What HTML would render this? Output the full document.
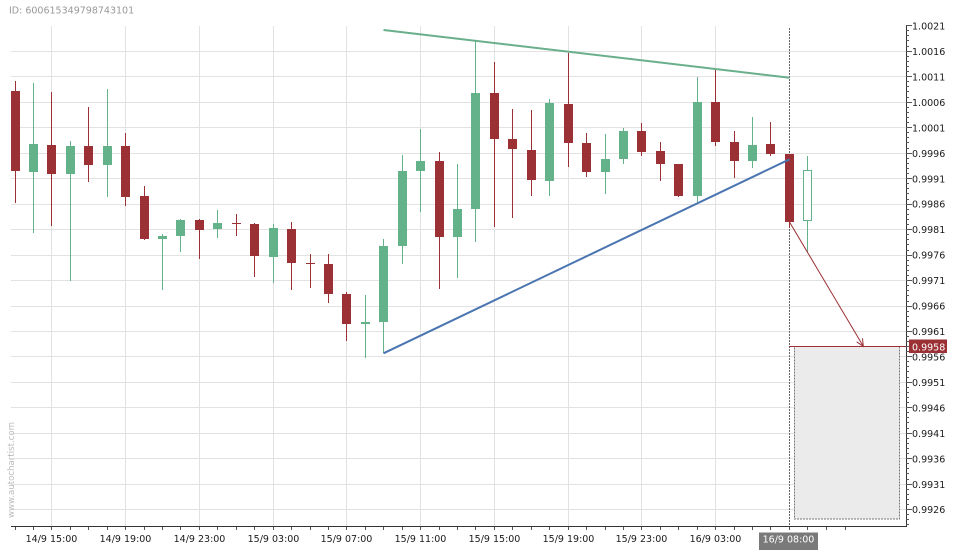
<!DOCTYPE html>
<html><head><meta charset="utf-8"><style>
html,body{margin:0;padding:0;background:#fff;}
svg{display:block;font-family:"DejaVu Sans","Liberation Sans",sans-serif;}
</style></head><body>
<svg width="960" height="550" viewBox="0 0 960 550" xmlns="http://www.w3.org/2000/svg">
<rect width="960" height="550" fill="#fff"/>
<text x="9" y="13.3" font-size="9.5" fill="#999">ID: 600615349798743101</text>
<g fill="#e2e2e2" shape-rendering="crispEdges">
<rect x="11" y="51" width="895" height="1"/><rect x="11" y="76" width="895" height="1"/><rect x="11" y="102" width="895" height="1"/><rect x="11" y="127" width="895" height="1"/><rect x="11" y="153" width="895" height="1"/><rect x="11" y="178" width="895" height="1"/><rect x="11" y="204" width="895" height="1"/><rect x="11" y="229" width="895" height="1"/><rect x="11" y="255" width="895" height="1"/><rect x="11" y="280" width="895" height="1"/><rect x="11" y="306" width="895" height="1"/><rect x="11" y="331" width="895" height="1"/><rect x="11" y="356" width="895" height="1"/><rect x="11" y="382" width="895" height="1"/><rect x="11" y="407" width="895" height="1"/><rect x="11" y="433" width="895" height="1"/><rect x="11" y="458" width="895" height="1"/><rect x="11" y="484" width="895" height="1"/><rect x="11" y="509" width="895" height="1"/>
<rect x="51" y="26" width="1" height="500"/><rect x="125" y="26" width="1" height="500"/><rect x="199" y="26" width="1" height="500"/><rect x="273" y="26" width="1" height="500"/><rect x="346" y="26" width="1" height="500"/><rect x="420" y="26" width="1" height="500"/><rect x="494" y="26" width="1" height="500"/><rect x="568" y="26" width="1" height="500"/><rect x="641" y="26" width="1" height="500"/><rect x="715" y="26" width="1" height="500"/>
</g>
<text transform="translate(14,518) rotate(-90)" font-size="8.6" fill="#bbb">www.autochartist.com</text>
<!-- forecast box -->
<rect x="794.5" y="346.5" width="105" height="172.5" fill="#ebebeb" stroke="#777" stroke-width="1" stroke-dasharray="2,1"/>
<line x1="789.5" y1="28" x2="789.5" y2="526" stroke="#666" stroke-width="1" stroke-dasharray="2,1"/>
<line x1="789" y1="346.5" x2="909" y2="346.5" stroke="#9b3035" stroke-width="1"/>
<!-- candles -->
<g shape-rendering="crispEdges">
<g fill="#9b3035">
<rect x="15" y="81" width="1" height="122"/><rect x="11" y="91" width="9" height="80"/>
<rect x="51" y="92" width="1" height="134"/><rect x="47" y="145" width="9" height="29"/>
<rect x="88" y="107" width="1" height="75"/><rect x="84" y="146" width="9" height="19"/>
<rect x="125" y="133" width="1" height="73"/><rect x="121" y="146" width="9" height="51"/>
<rect x="144" y="186" width="1" height="54"/><rect x="140" y="196" width="9" height="43"/>
<rect x="199" y="219" width="1" height="40"/><rect x="195" y="220" width="9" height="10"/>
<rect x="236" y="214" width="1" height="22"/><rect x="232" y="223" width="9" height="1"/>
<rect x="254" y="223" width="1" height="54"/><rect x="250" y="224" width="9" height="32"/>
<rect x="291" y="222" width="1" height="68"/><rect x="287" y="229" width="9" height="34"/>
<rect x="310" y="254" width="1" height="34"/><rect x="306" y="263" width="9" height="1"/>
<rect x="328" y="254" width="1" height="49"/><rect x="324" y="264" width="9" height="30"/>
<rect x="346" y="292" width="1" height="49"/><rect x="342" y="294" width="9" height="30"/>
<rect x="439" y="152" width="1" height="137"/><rect x="435" y="161" width="9" height="76"/>
<rect x="494" y="62" width="1" height="165"/><rect x="490" y="93" width="9" height="46"/>
<rect x="512" y="109" width="1" height="109"/><rect x="508" y="139" width="9" height="10"/>
<rect x="531" y="110" width="1" height="86"/><rect x="527" y="150" width="9" height="30"/>
<rect x="568" y="53" width="1" height="114"/><rect x="564" y="104" width="9" height="39"/>
<rect x="586" y="133" width="1" height="44"/><rect x="582" y="143" width="9" height="29"/>
<rect x="641" y="123" width="1" height="33"/><rect x="637" y="131" width="9" height="21"/>
<rect x="660" y="142" width="1" height="39"/><rect x="656" y="151" width="9" height="13"/>
<rect x="678" y="164" width="1" height="33"/><rect x="674" y="164" width="9" height="32"/>
<rect x="715" y="70" width="1" height="76"/><rect x="711" y="102" width="9" height="40"/>
<rect x="734" y="131" width="1" height="47"/><rect x="730" y="142" width="9" height="19"/>
<rect x="770" y="122" width="1" height="34"/><rect x="766" y="144" width="9" height="10"/>
<rect x="789" y="154" width="1" height="74"/><rect x="785" y="154" width="9" height="68"/>
</g>
<g fill="#64b28a">
<rect x="33" y="83" width="1" height="150"/><rect x="29" y="144" width="9" height="28"/>
<rect x="70" y="141" width="1" height="140"/><rect x="66" y="146" width="9" height="28"/>
<rect x="107" y="89" width="1" height="108"/><rect x="103" y="146" width="9" height="19"/>
<rect x="162" y="234" width="1" height="56"/><rect x="158" y="236" width="9" height="3"/>
<rect x="180" y="219" width="1" height="33"/><rect x="176" y="220" width="9" height="16"/>
<rect x="217" y="210" width="1" height="28"/><rect x="213" y="223" width="9" height="6"/>
<rect x="273" y="224" width="1" height="59"/><rect x="269" y="228" width="9" height="29"/>
<rect x="365" y="295" width="1" height="63"/><rect x="361" y="322" width="9" height="2"/>
<rect x="383" y="239" width="1" height="114"/><rect x="379" y="246" width="9" height="76"/>
<rect x="402" y="155" width="1" height="109"/><rect x="398" y="171" width="9" height="75"/>
<rect x="420" y="129" width="1" height="83"/><rect x="416" y="161" width="9" height="10"/>
<rect x="457" y="164" width="1" height="114"/><rect x="453" y="209" width="9" height="28"/>
<rect x="475" y="41" width="1" height="201"/><rect x="471" y="93" width="9" height="116"/>
<rect x="549" y="99" width="1" height="97"/><rect x="545" y="103" width="9" height="78"/>
<rect x="605" y="134" width="1" height="60"/><rect x="601" y="159" width="9" height="13"/>
<rect x="623" y="128" width="1" height="36"/><rect x="619" y="131" width="9" height="28"/>
<rect x="697" y="77" width="1" height="125"/><rect x="693" y="102" width="9" height="94"/>
<rect x="752" y="117" width="1" height="51"/><rect x="748" y="145" width="9" height="16"/>
<rect x="807" y="156" width="1" height="96"/>
</g>
<rect x="803.5" y="170.5" width="8" height="50" fill="#fff" stroke="#64b28a" stroke-width="1"/>
</g>
<!-- trend lines -->
<line x1="383.5" y1="30" x2="789.5" y2="77.7" stroke="#6aaf8c" stroke-width="2"/>
<line x1="383.5" y1="353.3" x2="789.5" y2="159.3" stroke="#4a75b0" stroke-width="2"/>
<!-- arrow -->
<line x1="789.5" y1="222" x2="863.3" y2="346.3" stroke="#9b3035" stroke-width="1"/>
<polyline points="856.7,341.8 863.3,346.3 862.5,338.3" fill="none" stroke="#9b3035" stroke-width="1"/>
<!-- axes -->
<g stroke="#333" stroke-width="1" shape-rendering="crispEdges">
<line x1="906.5" y1="26" x2="906.5" y2="527"/>
<line x1="11" y1="526.5" x2="907" y2="526.5"/>
</g>
<g stroke="#555" stroke-width="1" shape-rendering="crispEdges" id="yt">
<path d="M906 25.5h6M906 51.5h6M906 76.5h6M906 102.5h6M906 127.5h6M906 153.5h6M906 178.5h6M906 204.5h6M906 229.5h6M906 255.5h6M906 280.5h6M906 306.5h6M906 331.5h6M906 356.5h6M906 382.5h6M906 407.5h6M906 433.5h6M906 458.5h6M906 484.5h6M906 509.5h6"/>
<path d="M906 30.5h3M906 35.5h3M906 40.5h3M906 46.5h3M906 56.5h3M906 61.5h3M906 66.5h3M906 71.5h3M906 81.5h3M906 86.5h3M906 91.5h3M906 97.5h3M906 107.5h3M906 112.5h3M906 117.5h3M906 122.5h3M906 132.5h3M906 137.5h3M906 142.5h3M906 148.5h3M906 158.5h3M906 163.5h3M906 168.5h3M906 173.5h3M906 183.5h3M906 188.5h3M906 193.5h3M906 199.5h3M906 209.5h3M906 214.5h3M906 219.5h3M906 224.5h3M906 234.5h3M906 239.5h3M906 244.5h3M906 250.5h3M906 260.5h3M906 265.5h3M906 270.5h3M906 275.5h3M906 285.5h3M906 290.5h3M906 295.5h3M906 301.5h3M906 311.5h3M906 316.5h3M906 321.5h3M906 326.5h3M906 336.5h3M906 341.5h3M906 346.5h3M906 351.5h3M906 361.5h3M906 366.5h3M906 371.5h3M906 377.5h3M906 387.5h3M906 392.5h3M906 397.5h3M906 402.5h3M906 412.5h3M906 417.5h3M906 422.5h3M906 428.5h3M906 438.5h3M906 443.5h3M906 448.5h3M906 453.5h3M906 463.5h3M906 468.5h3M906 473.5h3M906 479.5h3M906 489.5h3M906 494.5h3M906 499.5h3M906 504.5h3M906 514.5h3M906 519.5h3M906 524.5h3"/>
<path d="M15.5 527v3M33.5 527v3M51.5 527v3M70.5 527v3M88.5 527v3M107.5 527v3M125.5 527v3M144.5 527v3M162.5 527v3M180.5 527v3M199.5 527v3M217.5 527v3M236.5 527v3M254.5 527v3M273.5 527v3M291.5 527v3M310.5 527v3M328.5 527v3M346.5 527v3M365.5 527v3M383.5 527v3M402.5 527v3M420.5 527v3M439.5 527v3M457.5 527v3M475.5 527v3M494.5 527v3M512.5 527v3M531.5 527v3M549.5 527v3M568.5 527v3M586.5 527v3M605.5 527v3M623.5 527v3M641.5 527v3M660.5 527v3M678.5 527v3M697.5 527v3M715.5 527v3M734.5 527v3M752.5 527v3M770.5 527v3M789.5 527v3M807.5 527v3M826.5 527v3M845.5 527v3"/>
</g>
<g font-size="9.5" fill="#1a1a1a">
<text x="912" y="29.5">1.0021</text><text x="912" y="55">1.0016</text><text x="912" y="80.5">1.0011</text><text x="912" y="106">1.0006</text><text x="912" y="131.3">1.0001</text><text x="912" y="156.8">0.9996</text><text x="912" y="182.3">0.9991</text><text x="912" y="207.7">0.9986</text><text x="912" y="233.2">0.9981</text><text x="912" y="258.6">0.9976</text><text x="912" y="284.1">0.9971</text><text x="912" y="309.6">0.9966</text><text x="912" y="335">0.9961</text><text x="912" y="360.5">0.9956</text><text x="912" y="385.9">0.9951</text><text x="912" y="411.4">0.9946</text><text x="912" y="436.9">0.9941</text><text x="912" y="462.3">0.9936</text><text x="912" y="487.8">0.9931</text><text x="912" y="513.2">0.9926</text>
</g>
<rect x="909" y="339.5" width="38" height="13.5" fill="#9b3035"/>
<text x="912" y="350.3" font-size="9.5" fill="#fff">0.9958</text>
<g font-size="9.5" fill="#1a1a1a" text-anchor="middle">
<text x="51.5" y="542">14/9 15:00</text><text x="125.5" y="542">14/9 19:00</text><text x="199.5" y="542">14/9 23:00</text><text x="273.5" y="542">15/9 03:00</text><text x="346.5" y="542">15/9 07:00</text><text x="420.5" y="542">15/9 11:00</text><text x="494.5" y="542">15/9 15:00</text><text x="568.5" y="542">15/9 19:00</text><text x="641.5" y="542">15/9 23:00</text><text x="715.5" y="542">16/9 03:00</text>
</g>
<rect x="759" y="532.5" width="59" height="17.5" fill="#7a7a7a"/>
<text x="788.5" y="542.5" font-size="9.5" fill="#fff" text-anchor="middle">16/9 08:00</text>
</svg>
</body></html>
